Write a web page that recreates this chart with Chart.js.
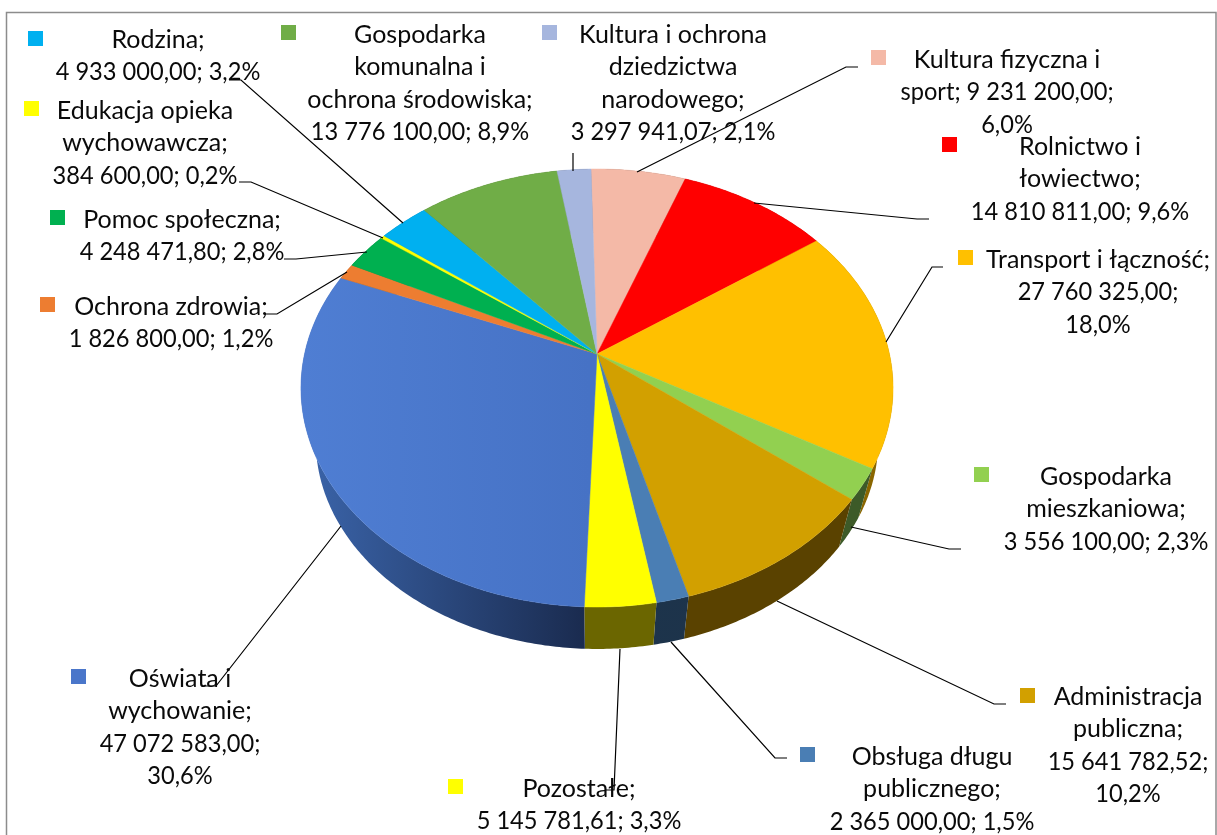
<!DOCTYPE html>
<html>
<head>
<meta charset="utf-8">
<title>Wydatki</title>
<script src="https://cdn.jsdelivr.net/npm/chart.js@4"></script>
<style>
    html, body { margin: 0; padding: 0; background: #fff; overflow: hidden; }
    canvas { display: block; }
</style>
</head>
<body>
<canvas id="chartContainer" width="1217" height="835"></canvas>
<script>
var categories = ['Kultura fizyczna i sport', 'Rolnictwo i łowiectwo', 'Transport i łączność', 'Gospodarka mieszkaniowa',
    'Administracja publiczna', 'Obsługa długu publicznego', 'Pozostałe', 'Oświata i wychowanie', 'Ochrona zdrowia',
    'Pomoc społeczna', 'Edukacja opieka wychowawcza', 'Rodzina', 'Gospodarka komunalna i ochrona środowiska',
    'Kultura i ochrona dziedzictwa narodowego'];
var values = [9231200.00, 14810811.00, 27760325.00, 3556100.00, 15641782.52, 2365000.00, 5145781.61,
    47072583.00, 1826800.00, 4248471.80, 384600.00, 4933000.00, 13776100.00, 3297941.07];
var sliceColors = ['#f4b9a7', '#ff0000', '#ffc000', '#92d050', '#d2a000', '#4a7eb4', '#ffff00',
    '#4a76ca', '#ed7d31', '#00b050', '#ffff00', '#00b0f0', '#70ad47', '#a6b6de'];
// side wall colour, left and right end of the slice
var wallLeft = ['#7a5c50', '#800000', '#8a6600', '#3d5a28', '#5a4200', '#1e3650', '#6b6600',
    '#3a63a8', '#774018', '#005828', '#808000', '#005878', '#385724', '#535b6f'];
var wallRight = ['#7a5c50', '#800000', '#8a6600', '#3d5a28', '#5a4200', '#1c3248', '#6b6600',
    '#1a2b4f', '#774018', '#005828', '#808000', '#005878', '#385724', '#535b6f'];

var labelLines = [
    ['Kultura fizyczna i', 'sport; 9 231 200,00;', '6,0%'],
    ['Rolnictwo i', 'łowiectwo;', '14 810 811,00; 9,6%'],
    ['Transport i łączność;', '27 760 325,00;', '18,0%'],
    ['Gospodarka', 'mieszkaniowa;', '3 556 100,00; 2,3%'],
    ['Administracja', 'publiczna;', '15 641 782,52;', '10,2%'],
    ['Obsługa długu', 'publicznego;', '2 365 000,00; 1,5%'],
    ['Pozostałe;', '5 145 781,61; 3,3%'],
    ['Oświata i', 'wychowanie;', '47 072 583,00;', '30,6%'],
    ['Ochrona zdrowia;', '1 826 800,00; 1,2%'],
    ['Pomoc społeczna;', '4 248 471,80; 2,8%'],
    ['Edukacja opieka', 'wychowawcza;', '384 600,00; 0,2%'],
    ['Rodzina;', '4 933 000,00; 3,2%'],
    ['Gospodarka', 'komunalna i', 'ochrona środowiska;', '13 776 100,00; 8,9%'],
    ['Kultura i ochrona', 'dziedzictwa', 'narodowego;', '3 297 941,07; 2,1%']
];
// text centre x, middle of first line y, key square left and top
var labelPlaces = [
    [1007, 60, 871, 50], [1080, 147, 942, 137], [1098, 260, 958, 250], [1106, 477, 974, 467],
    [1128, 697, 1020, 688], [932, 757, 800, 747], [579, 789, 448, 779], [180, 679, 71, 669],
    [171, 307, 40, 297], [182, 220, 50, 210], [145, 111, 24, 101], [158, 40, 28, 31],
    [420, 35, 281, 25], [673, 35, 542, 25]
];
var leaderLines = [
    [[858, 67], [846, 67], [637, 172]],
    [[929, 219], [917, 219], [754, 203]],
    [[943, 267], [932, 267], [886, 342]],
    [[961, 549], [949, 549], [851, 527]],
    [[1006, 704], [994, 704], [777, 601]],
    [[787, 758], [775, 758], [671, 642]],
    [[605, 790], [614, 790], [620, 649]],
    [[204, 686], [216, 686], [341, 526]],
    [[265, 314], [277, 314], [347, 272]],
    [[284, 259], [296, 259], [367, 252]],
    [[239, 182], [251, 182], [383, 238]],
    [[229, 80], [241, 80], [403, 223]],
    [[573, 153], [573, 171]]
];

// tilt of the 3d pie
var tilt = -0.1553, xScale = 0.988, yScale = 0.722;
var wallShrink = 0.95, wallDrop = 54.6;

function project(arc, angle, bottom) {
    var u = Math.cos(angle), v = Math.sin(angle);
    var w = 1 + tilt * v;
    var x = arc.outerRadius * xScale * u / w;
    var y = arc.outerRadius * yScale * v / w;
    if (bottom) {
        return [arc.x + x * wallShrink, arc.y + y * wallShrink + wallDrop];
    }
    return [arc.x + x, arc.y + y];
}

function traceEdge(ctx, arc, bottom, reverse) {
    var steps = Math.max(2, Math.ceil((arc.endAngle - arc.startAngle) * 90));
    for (var i = 0; i <= steps; i++) {
        var t = reverse ? 1 - i / steps : i / steps;
        var p = project(arc, arc.startAngle + (arc.endAngle - arc.startAngle) * t, bottom);
        ctx.lineTo(p[0], p[1]);
    }
}

var pie3d = {
    id: 'pie3d',
    beforeDatasetDraw: function (chart) {
        var ctx = chart.ctx;
        var arcs = chart.getDatasetMeta(0).data;
        ctx.save();
        // side walls first, the top covers what is behind
        arcs.forEach(function (arc, i) {
            var left = arc.x - arc.outerRadius, right = arc.x + arc.outerRadius;
            if (i == 7) {
                left = 310; right = 585;
            }
            var grad = ctx.createLinearGradient(left, 0, right, 0);
            grad.addColorStop(0, wallLeft[i]);
            grad.addColorStop(1, wallRight[i]);
            ctx.beginPath();
            traceEdge(ctx, arc, false, false);
            traceEdge(ctx, arc, true, true);
            ctx.closePath();
            ctx.fillStyle = grad;
            ctx.fill();
        });
        arcs.forEach(function (arc, i) {
            var fill = sliceColors[i];
            if (i == 7) {
                // the big slice is a little lighter towards its outer edge
                fill = ctx.createLinearGradient(300, 0, 590, 0);
                fill.addColorStop(0, '#4f7ed3');
                fill.addColorStop(1, '#4672c5');
            }
            ctx.beginPath();
            ctx.moveTo(arc.x, arc.y);
            traceEdge(ctx, arc, false, false);
            ctx.closePath();
            ctx.fillStyle = fill;
            ctx.strokeStyle = fill;
            ctx.lineWidth = 0.5;
            ctx.fill();
            ctx.stroke();
        });
        ctx.restore();
        return false;
    },
    afterDraw: function (chart) {
        var ctx = chart.ctx;
        ctx.save();
        // outer frame, runs off the bottom of the picture
        ctx.strokeStyle = '#8c8c8c';
        ctx.lineWidth = 1.5;
        ctx.strokeRect(6.5, 12.5, 1209.5, 900);

        ctx.strokeStyle = '#000';
        ctx.lineWidth = 1.2;
        leaderLines.forEach(function (line) {
            ctx.beginPath();
            line.forEach(function (p) { ctx.lineTo(p[0], p[1]); });
            ctx.stroke();
        });

        ctx.font = '25px Lato';
        ctx.textAlign = 'center';
        ctx.textBaseline = 'middle';
        labelLines.forEach(function (lines, i) {
            var place = labelPlaces[i];
            ctx.fillStyle = sliceColors[i];
            ctx.fillRect(place[2], place[3], 15, 15);
            ctx.fillStyle = '#0a0a0a';
            lines.forEach(function (text, n) {
                // Lato digits run wider than the letters, squeeze the number lines
                var width = ctx.measureText(text).width;
                if (/\d/.test(text)) {
                    width = width * 0.945;
                }
                ctx.fillText(text, place[0], place[1] + n * 32.4, width);
            });
        });
        ctx.restore();
    }
};

new Chart(document.getElementById('chartContainer').getContext('2d'), {
    type: 'pie',
    data: {
        labels: categories,
        datasets: [{ data: values, backgroundColor: sliceColors, borderWidth: 0 }]
    },
    options: {
        responsive: false,
        animation: false,
        rotation: -1.36,
        layout: { padding: { left: 301, right: 324, top: 58, bottom: 185 } },
        plugins: { legend: { display: false }, tooltip: { enabled: false } }
    },
    plugins: [pie3d]
});
</script>
</body>
</html>
